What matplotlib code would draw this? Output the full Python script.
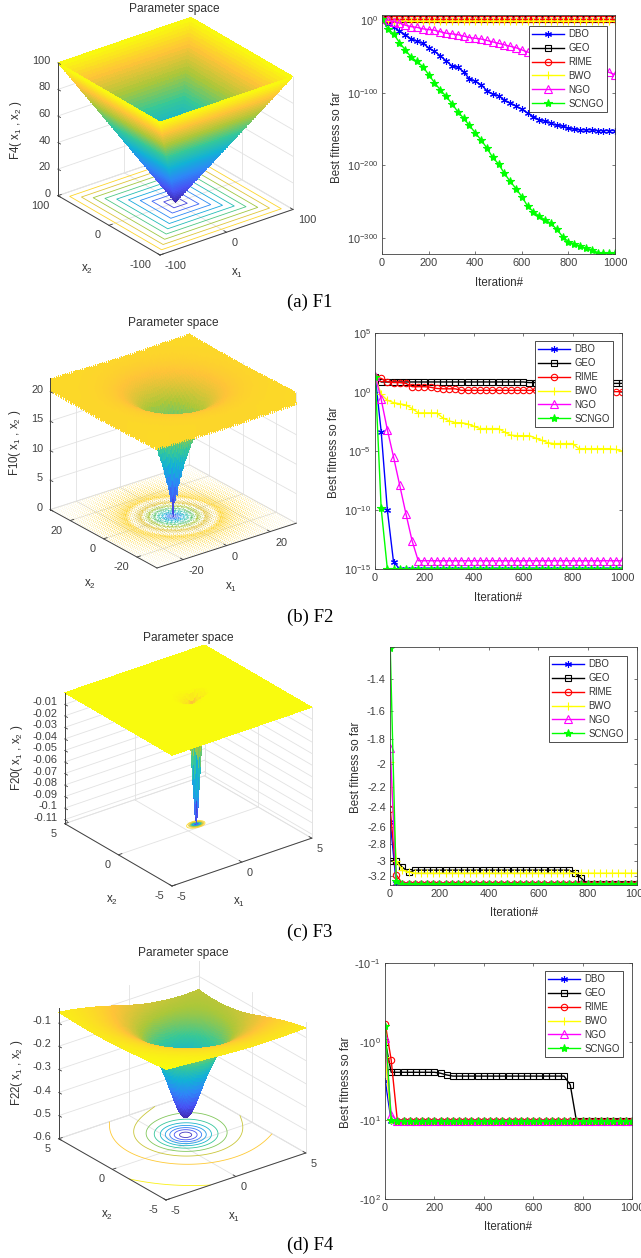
import numpy as np
import matplotlib
matplotlib.use('Agg')
import matplotlib.pyplot as plt
from matplotlib.colors import LinearSegmentedColormap
from mpl_toolkits.mplot3d import proj3d

plt.rcParams['font.family'] = ['Liberation Sans', 'DejaVu Sans']
plt.rcParams['mathtext.default'] = 'regular'

W, H = 641, 1258
DARK = '#404040'
GRID = '#e2e2e2'

parula = LinearSegmentedColormap.from_list('parula', [
    (0.2422, 0.1504, 0.6603), (0.2810, 0.3228, 0.9579), (0.1786, 0.5289, 0.9682),
    (0.0689, 0.6948, 0.8394), (0.2161, 0.7843, 0.5923), (0.6720, 0.7793, 0.2227),
    (0.9970, 0.7659, 0.2199), (0.9763, 0.9831, 0.0538)])

# convergence curves at the marker positions
iters = [1] + list(range(25, 1001, 25))

# row 1: log10 of best fitness
f1_dbo = [2, -5, -10, -15, -20, -26, -29, -32, -38, -43, -49, -56, -63, -65, -71, -81, -84, -89, -97, -102,
          -104, -110, -114, -118, -123, -128, -133, -137, -139, -142, -145, -146, -149, -150, -151, -151,
          -151, -152, -152, -152, -152]
f1_geo = [2] * 41
f1_rime = [2] * 41
f1_bwo = [2] + [-1.5] * 40
f1_ngo = [2, 0, -2, -4, -7, -9, -10, -12, -13, -14, -16, -18, -19, -20, -22, -24, -25, -26, -28, -30,
          -32, -34, -36, -38, -41, -44, -46, -48, -50, -52, -54, -56, -58, -60, -62, -64, -66, -68, -70, -72, -75]
f1_scngo = [2, -12, -19, -31, -41, -51, -57, -64, -75, -86, -96, -105, -115, -126, -135, -145, -155, -165,
            -176, -189, -198, -211, -222, -232, -243, -256, -264, -270, -275, -280, -288, -298, -305, -308,
            -311, -314, -316, -320, -321, -321, -321]

# row 2: log10 of best fitness
f2_dbo = [1.27, -3.35, -10, -14.4] + [-15] * 37
f2_geo = [1.3] + [0.85] * 24 + [0.8] * 8 + [0.73] * 8
f2_rime = [1.3, 1.15, 0.87, 0.8, 0.8, 0.73, 0.45, 0.45, 0.45, 0.4, 0.3, 0.27, 0.27, 0.27] + [0.14] * 20 + [0.08] * 3 + [0.03] * 4
f2_bwo = [1.3, -0.2, -0.7, -0.9, -1, -1.1, -1.4, -1.77, -1.77, -1.77, -1.77, -2.2, -2.45, -2.6, -2.6, -2.7, -2.9,
          -3.1, -3.1, -3.1, -3.1, -3.4, -3.66, -3.7, -3.7, -3.7, -3.9, -4.1, -4.3, -4.37, -4.37, -4.37, -4.37,
          -4.8, -4.8, -4.8, -4.8, -4.8, -4.8, -4.87, -5]
f2_ngo = [1.35, -0.62, -3.2, -5.5, -7.9, -10.3, -12.6, -14.3] + [-14.3] * 33
f2_scngo = [1.27, -9.86] + [-15] * 39

# row 3: best fitness
f3_dbo = [-2.55, -3.29] + [-3.31] * 39
f3_geo = [-3.0, -3.0, -3.08, -3.15] + [-3.12] * 26 + [-3.16, -3.23] + [-3.31] * 9
f3_rime = [-2.42, -3.18] + [-3.3] * 39
f3_bwo = [-1.98, -3.0, -3.12, -3.14] + [-3.16] * 37
f3_ngo = [-1.87, -3.29] + [-3.31] * 39
f3_scngo = [-1.23, -3.27] + [-3.31] * 39

# row 4: best fitness
f4_dbo = [-3.13, -10.2] + [-10.15] * 39
f4_geo = [-1.0] + [-2.45] * 8 + [-2.52, -2.65] + [-2.74] * 19 + [-3.54] + [-10.15] * 10
f4_rime = [-0.59, -1.71] + [-10.1] * 39
f4_bwo = [-1.58, -10.0] + [-10.15] * 39
f4_ngo = [-0.91, -8.5] + [-10.15] * 39
f4_scngo = [-0.635, -9.86] + [-10.15] * 39

names = ['DBO', 'GEO', 'RIME', 'BWO', 'NGO', 'SCNGO']
colors = ['#0000ff', '#000000', '#ff0000', '#ffff00', '#ff00ff', '#00ff00']
markers = [(6, 2, 0), 's', 'o', '+', '^', '*']
msizes = [5, 3.8, 4.6, 5.5, 5.6, 6]
fills = ['none', 'none', 'none', 'none', 'none', '#00ff00']

fig = plt.figure(figsize=(W / 100, H / 100), dpi=100)


def px(x, y):
    return x / W, 1 - y / H


def screen(ax, xs, ys, zs):
    x2, y2, _ = proj3d.proj_transform(np.array(xs, float), np.array(ys, float), np.array(zs, float), ax.get_proj())
    return x2, y2


def fit_box(ax, xl, yl, zl, left, right, front):
    # slide and scale the 3d axes until the floor corners land where they are in the picture
    xs, ys, zs = [xl[0], xl[1], xl[0]], [yl[1], yl[0], yl[0]], [zl[0]] * 3
    for i in range(3):
        ax.apply_aspect()
        x2, y2 = screen(ax, xs, ys, zs)
        p = ax.transData.transform(np.column_stack([x2, y2]))
        now = np.hypot(*(p[0] - p[1]))
        goal = np.hypot(left[0] - right[0], left[1] - right[1])
        pos = ax.get_position()
        side = pos.width * W * goal / now
        cx = (pos.x0 + pos.x1) / 2 * W
        cy = (pos.y0 + pos.y1) / 2 * H
        ax.set_position([(cx - side / 2) / W, (cy - side / 2) / H, side / W, side / H])
        ax.apply_aspect()
        p = ax.transData.transform(np.column_stack([x2, y2]))
        dx = front[0] - p[2][0]
        dy = (H - front[1]) - p[2][1]
        ax.set_position([(cx - side / 2 + dx) / W, (cy - side / 2 + dy) / H, side / W, side / H])


def surface_panel(X, Y, Z, xl, yl, zl, xt, yt, zt, zlabels, levels, el, zr, left, right, front,
                  title, tpos, zname, zpos, x1pos, x2pos, surf_top=None, clw=0.6):
    ax = fig.add_axes([0.1, 0.1, 0.4, 0.4 * W / H], projection='3d', computed_zorder=False)
    ax.set_proj_type('ortho')
    ax.view_init(elev=el, azim=-127.5)
    ax.set_box_aspect((1, 1, zr))
    ax.set_xlim(*xl, view_margin=0)
    ax.set_ylim(*yl, view_margin=0)
    ax.set_zlim(*zl, view_margin=0)
    ax.set_axis_off()
    fit_box(ax, xl, yl, zl, left, right, front)

    # back walls and floor
    for t in xt:
        ax.plot([t, t], [yl[0], yl[1]], [zl[0], zl[0]], color=GRID, lw=0.6, zorder=1)
        ax.plot([t, t], [yl[1], yl[1]], [zl[0], zl[1]], color=GRID, lw=0.6, zorder=1)
    for t in yt:
        ax.plot([xl[0], xl[1]], [t, t], [zl[0], zl[0]], color=GRID, lw=0.6, zorder=1)
        ax.plot([xl[1], xl[1]], [t, t], [zl[0], zl[1]], color=GRID, lw=0.6, zorder=1)
    for t in zt:
        ax.plot([xl[0], xl[1]], [yl[1], yl[1]], [t, t], color=GRID, lw=0.6, zorder=1)
        ax.plot([xl[1], xl[1]], [yl[0], yl[1]], [t, t], color=GRID, lw=0.6, zorder=1)
    ax.plot([xl[1], xl[1]], [yl[1], yl[1]], [zl[0], zl[1]], color=GRID, lw=0.6, zorder=1)
    ax.plot([xl[1], xl[1]], [yl[0], yl[0]], [zl[0], zl[1]], color=GRID, lw=0.6, zorder=1)
    ax.plot([xl[0], xl[1]], [yl[1], yl[1]], [zl[0], zl[0]], color=GRID, lw=0.6, zorder=1)
    ax.plot([xl[1], xl[1]], [yl[0], yl[1]], [zl[0], zl[0]], color=GRID, lw=0.6, zorder=1)

    vmin, vmax = Z.min(), Z.max()
    ax.contour(X, Y, Z, levels=levels, cmap=parula, vmin=vmin, vmax=vmax, zdir='z', offset=zl[0],
               linewidths=clw, zorder=2)
    ax.plot_surface(X, Y, Z, cmap=parula, vmin=vmin, vmax=surf_top or vmax, rstride=1, cstride=1, linewidth=0,
                    antialiased=False, shade=False, zorder=3)

    # axis lines
    ax.plot([xl[0], xl[1]], [yl[0], yl[0]], [zl[0], zl[0]], color=DARK, lw=0.7, zorder=4)
    ax.plot([xl[0], xl[0]], [yl[0], yl[1]], [zl[0], zl[0]], color=DARK, lw=0.7, zorder=4)
    ax.plot([xl[0], xl[0]], [yl[1], yl[1]], [zl[0], zl[1]], color=DARK, lw=0.7, zorder=4)
    dx = (xl[1] - xl[0]) * 0.025
    dy = (yl[1] - yl[0]) * 0.025
    for t in xt:
        ax.plot([t, t], [yl[0], yl[0] + dy], [zl[0], zl[0]], color=DARK, lw=0.6, zorder=4)
        x2, y2 = screen(ax, [t], [yl[0]], [zl[0]])
        ax.annotate(f'{t:g}', xy=(x2[0], y2[0]), xytext=(5, -11), textcoords='offset pixels', ha='left',
                    va='center', fontsize=7.9, color=DARK, annotation_clip=False)
    for t in yt:
        ax.plot([xl[0], xl[0] + dx], [t, t], [zl[0], zl[0]], color=DARK, lw=0.6, zorder=4)
        x2, y2 = screen(ax, [xl[0]], [t], [zl[0]])
        ax.annotate(f'{t:g}', xy=(x2[0], y2[0]), xytext=(-8, -10), textcoords='offset pixels', ha='right',
                    va='center', fontsize=7.9, color=DARK, annotation_clip=False)
    for t, lab in zip(zt, zlabels):
        ax.plot([xl[0], xl[0]], [yl[1], yl[1] - dy], [t, t], color=DARK, lw=0.6, zorder=4)
        x2, y2 = screen(ax, [xl[0]], [yl[1]], [t])
        ax.annotate(lab, xy=(x2[0], y2[0]), xytext=(-7, 2), textcoords='offset pixels', ha='right',
                    va='center', fontsize=7.9, color=DARK, annotation_clip=False)

    fig.text(*px(*tpos), title, ha='center', va='center', fontsize=8.6, color='#303030')
    fig.text(*px(*zpos), zname, rotation=90, ha='center', va='center', fontsize=8.3, color='#303030')
    fig.text(*px(*x1pos), 'x$_1$', ha='center', va='center', fontsize=8.3, color='#303030')
    fig.text(*px(*x2pos), 'x$_2$', ha='center', va='center', fontsize=8.3, color='#303030')


def curve_panel(box, series, ylim, yticks, ylabels, lpos, ylabpos, xlabpos):
    l, t, r, b = box
    ax = fig.add_axes([l / W, 1 - b / H, (r - l) / W, (b - t) / H])
    ax.set_yscale('log')
    for s, name, c, m, ms, mf in zip(series, names, colors, markers, msizes, fills):
        ax.plot(iters, s, color=c, lw=1.0, marker=m, ms=ms, mfc=mf, mec=c, mew=0.8, label=name)
    ax.set_xlim(0, 1000)
    ax.set_ylim(*ylim)
    ax.set_xticks([0, 200, 400, 600, 800, 1000])
    ax.set_yticks(yticks)
    ax.set_yticklabels(ylabels)
    ax.minorticks_off()
    ax.tick_params(direction='in', top=True, right=True, length=2.2, width=0.5, labelsize=7.9, pad=3,
                   color=DARK, labelcolor=DARK)
    for sp in ax.spines.values():
        sp.set_linewidth(0.6)
        sp.set_color(DARK)
    ax.legend(loc='upper right', bbox_to_anchor=lpos, borderaxespad=0, fontsize=6.9, fancybox=False, framealpha=1,
              edgecolor='#303030', handlelength=3.3, labelspacing=0.4, borderpad=0.35, handletextpad=0.45,
              labelcolor='#303030').get_frame().set_linewidth(0.6)
    fig.text(*px(*ylabpos), 'Best fitness so far', rotation=90, ha='center', va='center', fontsize=8.3, color='#303030')
    fig.text(*px(*xlabpos), 'Iteration#', ha='center', va='center', fontsize=8.3, color='#303030')


# surfaces are the benchmark functions named on the z axes, on the grids the plots use
x4 = np.arange(-100, 100.5, 2)
X4, Y4 = np.meshgrid(x4, x4)
Z4 = np.maximum(np.abs(X4), np.abs(Y4))

x10 = np.arange(-32, 32.25, 0.5)
X10, Y10 = np.meshgrid(x10, x10)
Z10 = (-20 * np.exp(-0.2 * np.sqrt((X10 ** 2 + Y10 ** 2) / 2))
       - np.exp((np.cos(2 * np.pi * X10) + np.cos(2 * np.pi * Y10)) / 2) + 20 + np.e)

aH = np.array([[10, 3, 17, 3.5, 1.7, 8], [.05, 10, 17, .1, 8, 14], [3, 3.5, 1.7, 10, 17, 8], [17, 8, .05, 10, .1, 14]])
cH = np.array([1, 1.2, 3, 3.2])
pH = np.array([[.1312, .1696, .5569, .0124, .8283, .5886], [.2329, .4135, .8307, .3736, .1004, .9991],
               [.2348, .1415, .3522, .2883, .3047, .6650], [.4047, .8828, .8732, .5743, .1091, .0381]])
x20 = np.arange(-5, 5.05, 0.1)
X20, Y20 = np.meshgrid(x20, x20)
Z20 = np.zeros_like(X20)
for i in range(4):
    rest = np.sum(aH[i, 2:] * pH[i, 2:] ** 2)
    Z20 -= cH[i] * np.exp(-(aH[i, 0] * (X20 - pH[i, 0]) ** 2 + aH[i, 1] * (Y20 - pH[i, 1]) ** 2 + rest))
Z20 = Z20.T  # the source plot has x1 and x2 swapped

aS = np.array([[4, 4, 4, 4], [1, 1, 1, 1], [8, 8, 8, 8], [6, 6, 6, 6], [3, 7, 3, 7], [2, 9, 2, 9], [5, 5, 3, 3]], float)
cS = np.array([.1, .2, .2, .4, .4, .6, .3])
x22 = np.arange(-5, 5.05, 0.1)
X22, Y22 = np.meshgrid(x22, x22)
Z22 = np.zeros_like(X22)
for i in range(7):
    Z22 -= 1 / ((X22 - aS[i, 0]) ** 2 + (Y22 - aS[i, 1]) ** 2 + aS[i, 2] ** 2 + aS[i, 3] ** 2 + cS[i])
Z22 = Z22.T

surface_panel(X4, Y4, Z4, (-100, 100), (-100, 100), (0, 100), [-100, 0, 100], [-100, 0, 100],
              [0, 20, 40, 60, 80, 100], ['0', '20', '40', '60', '80', '100'], np.arange(10, 100, 10),
              26.5, 0.885, (57, 195), (292, 210), (160, 255),
              'Parameter space', (174, 9), 'F4( x$_1$ , x$_2$ )', (16, 130), (237, 273), (87, 269))
surface_panel(X10, Y10, Z10, (-32, 32), (-32, 32), (0, 22.3), [-20, 0, 20], [-20, 0, 20],
              [0, 5, 10, 15, 20], ['0', '5', '10', '15', '20'], np.arange(2, 22, 2),
              24.8, 0.826, (50, 509), (296, 524), (157, 568),
              'Parameter space', (173, 323), 'F10( x$_1$ , x$_2$ )', (15, 443), (231, 587), (90, 584),
              surf_top=23.5, clw=0.3)
z20_ticks = [-0.11, -0.1, -0.09, -0.08, -0.07, -0.06, -0.05, -0.04, -0.03, -0.02, -0.01]
surface_panel(X20, Y20, Z20, (-5, 5), (-5, 5), (-0.1135, 0), [-5, 0, 5], [-5, 0, 5],
              z20_ticks, [f'{v:g}' for v in z20_ticks], np.arange(-0.1, 0, 0.01),
              26.5, 0.83, (65, 824), (312, 838), (172, 886),
              'Parameter space', (188, 638), 'F20( x$_1$ , x$_2$ )', (17, 758), (239, 902), (112, 900))
z22_ticks = [-0.6, -0.5, -0.4, -0.3, -0.2, -0.1]
surface_panel(X22, Y22, Z22, (-5, 5), (-5, 5), (-0.6, -0.035), [-5, 0, 5], [-5, 0, 5],
              z22_ticks, [f'{v:g}' for v in z22_ticks], np.arange(-0.5, -0.04, 0.05),
              26, 0.825, (59, 1139), (306, 1153), (166, 1200),
              'Parameter space', (183, 953), 'F22( x$_1$ , x$_2$ )', (17, 1073), (234, 1217), (107, 1215))

curve_panel((382, 15, 615, 254), [10.0 ** np.array(s, float) for s in (f1_dbo, f1_geo, f1_rime, f1_bwo, f1_ngo, f1_scngo)],
            (1e-322, 1e7), [1e-300, 1e-200, 1e-100, 1e0], ['10$^{-300}$', '10$^{-200}$', '10$^{-100}$', '10$^{0}$'],
            (0.966, 0.954), (337, 137), (499, 283))
curve_panel((375, 333, 622, 569), [10.0 ** np.array(s, float) for s in (f2_dbo, f2_geo, f2_rime, f2_bwo, f2_ngo, f2_scngo)],
            (1e-15, 1e5), [1e-15, 1e-10, 1e-5, 1e0, 1e5], ['10$^{-15}$', '10$^{-10}$', '10$^{-5}$', '10$^{0}$', '10$^{5}$'],
            (0.964, 0.966), (334, 452), (498, 598))

# rows 3 and 4 are negative values on a reversed log axis
f3_ticks = [-3.2, -3, -2.8, -2.6, -2.4, -2.2, -2, -1.8, -1.6, -1.4]
curve_panel((390, 647, 637, 885), [np.abs(s) for s in (f3_dbo, f3_geo, f3_rime, f3_bwo, f3_ngo, f3_scngo)],
            (3.32, 1.226), [abs(v) for v in f3_ticks], [f'{v:g}' for v in f3_ticks],
            (0.96, 0.962), (356, 767), (514, 913))
curve_panel((385, 963, 632, 1199), [np.abs(s) for s in (f4_dbo, f4_geo, f4_rime, f4_bwo, f4_ngo, f4_scngo)],
            (100, 0.1), [100, 10, 1, 0.1], ['-10$^{2}$', '-10$^{1}$', '-10$^{0}$', '-10$^{-1}$'],
            (0.964, 0.966), (346, 1082), (508, 1227))

captions = ['(a) F1', '(b) F2', '(c) F3', '(d) F4']
cap_y = [302, 617, 932, 1245]
for c, y in zip(captions, cap_y):
    fig.text(*px(310, y), c, ha='center', va='center', fontsize=13.5, family='Liberation Serif', color='black')

fig.savefig('out.png', dpi=100)
